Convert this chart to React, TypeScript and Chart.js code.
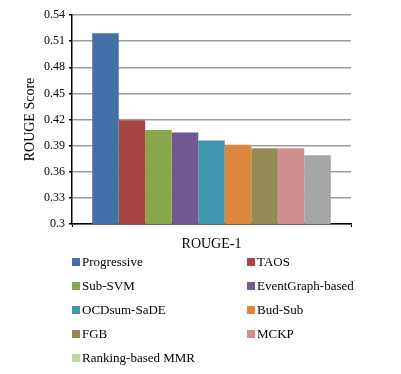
import React, { useEffect, useRef } from "react";
import { Chart, registerables } from "chart.js";

Chart.register(...registerables);

const categories = ["ROUGE-1"];
const methods = [
  "Progressive",
  "TAOS",
  "Sub-SVM",
  "EventGraph-based",
  "OCDsum-SaDE",
  "Bud-Sub",
  "FGB",
  "MCKP",
  "Ranking-based MMR",
];
const values = [0.519, 0.419, 0.408, 0.405, 0.396, 0.391, 0.387, 0.387, 0.379];
const barColors = [
  "#4470a8",
  "#a84545",
  "#8aa64b",
  "#715a91",
  "#3f97ad",
  "#dc873d",
  "#938a55",
  "#d09090",
  "#a6a6a6",
];
const legendColors = [
  "#4470a8",
  "#a84545",
  "#8aa64b",
  "#715a91",
  "#3f97ad",
  "#dc873d",
  "#938a55",
  "#d09090",
  "#c0d89b",
];
const yMin = 0.3;
const yMax = 0.54;
const yStep = 0.03;

const SERIF = "'Liberation Serif', 'Times New Roman', serif";

export default function App() {
  const ref = useRef<HTMLCanvasElement | null>(null);

  useEffect(() => {
    document.body.style.margin = "0";
    const canvas = ref.current;
    if (!canvas) return;
    const chart = new Chart(canvas, {
      type: "bar",
      data: {
        labels: categories,
        datasets: methods.map((m, i) => ({
          label: m,
          data: [values[i]],
          backgroundColor: barColors[i],
          borderWidth: 0,
        })),
      },
      options: {
        animation: false,
        responsive: false,
        maintainAspectRatio: false,
        layout: { padding: { left: 0, right: 50, top: 15, bottom: 110 } },
        datasets: {
          bar: { categoryPercentage: 0.855, barPercentage: 1 },
        },
        plugins: {
          legend: { display: false },
          tooltip: { enabled: false },
        },
        scales: {
          x: {
            afterFit: (s: any) => {
              s.height = 40;
            },
            grid: {
              display: true,
              offset: true,
              drawOnChartArea: false,
              tickLength: 3,
              color: "#000",
              lineWidth: 1,
            },
            border: { display: true, color: "#000", width: 1.5 },
            ticks: {
              color: "#000",
              font: { family: SERIF, size: 14 },
              padding: 9,
            },
          },
          y: {
            min: yMin,
            max: yMax,
            afterFit: (s: any) => {
              s.width = 72;
            },
            afterBuildTicks: (s: any) => {
              const t = [];
              for (let i = 0; i <= Math.round((yMax - yMin) / yStep); i++) {
                t.push({ value: Number((yMin + i * yStep).toFixed(2)) });
              }
              s.ticks = t;
            },
            grid: {
              color: "#9c9c9c",
              lineWidth: 1.5,
              tickLength: 3,
              tickColor: "#000",
            },
            border: { display: true, color: "#000", width: 1.5 },
            ticks: {
              color: "#000",
              font: { family: SERIF, size: 12 },
              padding: 4,
              callback: (v: any) => String(Number(Number(v).toFixed(2))),
            },
            title: {
              display: true,
              text: "ROUGE Score",
              color: "#000",
              font: { family: SERIF, size: 14 },
              padding: { top: 22, bottom: 0 },
            },
          },
        },
      },
    });
    return () => chart.destroy();
  }, []);

  const rowStart = 262;
  const rowGap = 24;

  return (
    <div style={{ position: "relative", width: 401, height: 374, background: "#fff" }}>
      <canvas ref={ref} width={401} height={374} style={{ display: "block" }} />
      {methods.map((m, i) => {
        const col = i % 2;
        const row = Math.floor(i / 2);
        const left = col === 0 ? 72 : 247;
        const cy = rowStart + row * rowGap;
        return (
          <div
            key={m}
            style={{
              position: "absolute",
              left,
              top: cy - 9,
              height: 18,
              display: "flex",
              alignItems: "center",
              fontFamily: SERIF,
              fontSize: 13,
              color: "#000",
              whiteSpace: "nowrap",
            }}
          >
            <span
              style={{
                display: "inline-block",
                width: 8,
                height: 8,
                background: legendColors[i],
                marginRight: 2,
              }}
            />
            {m}
          </div>
        );
      })}
    </div>
  );
}
